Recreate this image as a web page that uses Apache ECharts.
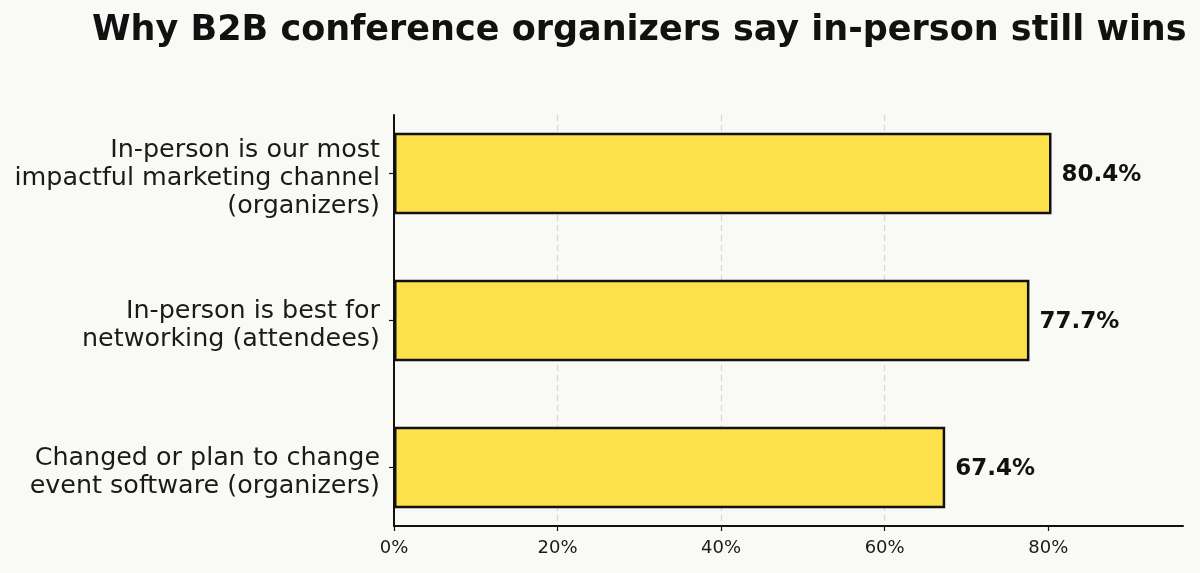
<!DOCTYPE html>
<html>
<head>
<meta charset="utf-8">
<script src="https://cdn.jsdelivr.net/npm/echarts@6/dist/echarts.min.js"></script>
<style>
html,body{margin:0;padding:0;background:#f9f9f5;}
#c{width:1200px;height:573px;}
</style>
</head>
<body>
<div id="c"></div>
<script>
const titleText = 'Why B2B conference organizers say in-person still wins';
const categories = [
  'In-person is our most\nimpactful marketing channel\n(organizers)',
  'In-person is best for\nnetworking (attendees)',
  'Changed or plan to change\nevent software (organizers)'
];
const values = [80.4, 77.7, 67.4];
const xTicks = [0, 20, 40, 60, 80];
const xMax = 96.48;

const chart = echarts.init(document.getElementById('c'), null, {renderer: 'canvas'});
const textColor = '#1a1a1a';
const option = {
  backgroundColor: '#f9f9f5',
  animation: false,
  title: {
    text: titleText,
    left: 87, top: 8,
    textStyle: {fontFamily: 'DejaVu Sans', fontWeight: 'bold', fontSize: 35, color: '#111'}
  },
  grid: [
    {left: 394, right: 17, top: 100, bottom: 32, containLabel: false},
    {left: 394, right: 17, top: 115, bottom: 47, containLabel: false},
    {left: 394, right: 17, top: 105, bottom: 27, containLabel: false}
  ],
  xAxis: [
    {gridIndex: 0, type: 'value', min: 0, max: xMax, show: false},
    {gridIndex: 1, type: 'value', min: 0, max: xMax, interval: 20,
      axisLine: {show: true, lineStyle: {color: '#111', width: 2}},
      axisTick: {show: true, length: 5, lineStyle: {color: '#111', width: 1.2}, customValues: xTicks},
      axisLabel: {customValues: xTicks, formatter: v => v + '%', fontFamily: 'DejaVu Sans', fontSize: 18, color: textColor, margin: 13},
      splitLine: {show: true, showMinLine: false, showMaxLine: false, lineStyle: {color: '#d8d8d3', type: [6, 4], width: 1.2}}
    },
    {gridIndex: 2, type: 'value', min: 0, max: xMax, show: false}
  ],
  yAxis: [
    {gridIndex: 0, type: 'category', data: categories, inverse: true,
      axisLine: {show: false},
      axisTick: {show: true, alignWithLabel: true, length: 5, lineStyle: {color: '#111', width: 1.2}},
      axisLabel: {show: false}
    },
    {gridIndex: 1, type: 'category', data: [''],
      axisLine: {show: true, lineStyle: {color: '#111', width: 2}},
      axisTick: {show: false}, axisLabel: {show: false}, splitLine: {show: false}
    },
    {gridIndex: 2, type: 'category', data: categories, inverse: true,
      axisLine: {show: false}, axisTick: {show: false}, splitLine: {show: false},
      axisLabel: {fontFamily: 'DejaVu Sans', fontSize: 25.4, color: textColor, lineHeight: 28, align: 'right', margin: 14}
    }
  ],
  series: [{
    type: 'bar', xAxisIndex: 0, yAxisIndex: 0,
    data: values,
    barWidth: '55.5%',
    itemStyle: {color: '#fce14b', borderColor: '#111', borderWidth: 2.5},
    label: {show: true, position: 'right', distance: 10, offset: [0, 2], formatter: p => p.value.toFixed(1) + '%',
      fontFamily: 'DejaVu Sans', fontWeight: 'bold', fontSize: 23, color: '#111'},
    z: 3
  }]
};
chart.setOption(option);
</script>
</body>
</html>
